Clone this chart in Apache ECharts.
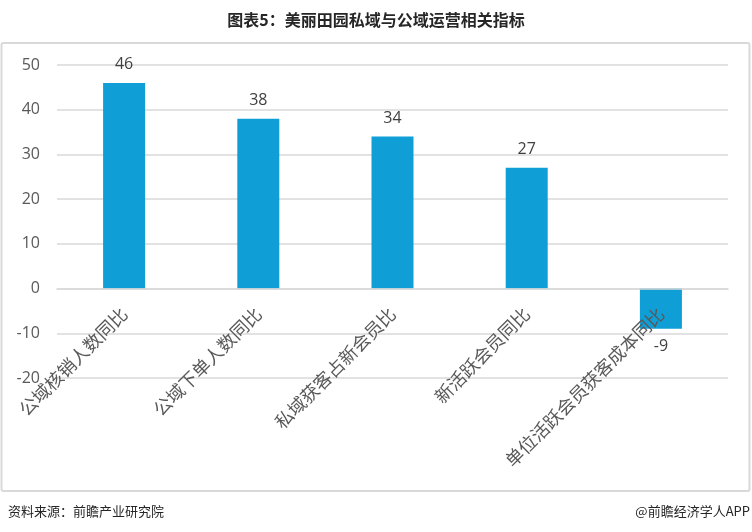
<!DOCTYPE html>
<html>
<head>
<meta charset="utf-8">
<script src="https://cdn.jsdelivr.net/npm/echarts/dist/echarts.min.js"></script>
<style>
html,body{margin:0;padding:0;background:#fff;}
#chart{width:752px;height:532px;}
</style>
</head>
<body>
<div id="chart"></div>
<script>
const titleText = '图表5：美丽田园私域与公域运营相关指标';
const sourceText = '资料来源：前瞻产业研究院';
const brandText = '@前瞻经济学人APP';
const categories = ['公域核销人数同比', '公域下单人数同比', '私域获客占新会员比', '新活跃会员同比', '单位活跃会员获客成本同比'];
const values = [46, 38, 34, 27, -9];
const yTicks = { min: -20, max: 50, interval: 10 };

const chart = echarts.init(document.getElementById('chart'), null, { renderer: 'canvas' });
const cjk = '"Noto Sans CJK SC", "Microsoft YaHei", sans-serif';
const num = '"Open Sans", "Noto Sans", sans-serif';

const gridTop = 65, gridBottom = 154, H = 532;
const plotH = H - gridTop - gridBottom;
const zeroOffset = plotH * (0 - yTicks.min) / (yTicks.max - yTicks.min);

chart.setOption({
  animation: false,
  backgroundColor: '#ffffff',
  graphic: [
    { type: 'rect', shape: { x: 1.5, y: 43, width: 748, height: 448, r: 2 }, style: { fill: 'none', stroke: '#d9d9d9', lineWidth: 2 }, z: -1 },
    { type: 'text', x: 376, y: 20, style: { text: titleText, fill: '#262626', font: 'bold 16px ' + cjk, textAlign: 'center', textVerticalAlign: 'middle' } },
    { type: 'text', x: 8, y: 511, style: { text: sourceText, fill: '#262626', font: '13px ' + cjk, textAlign: 'left', textVerticalAlign: 'middle' } },
    { type: 'text', x: 750, y: 511, style: { text: brandText, fill: '#262626', font: '13px ' + cjk, textAlign: 'right', textVerticalAlign: 'middle' } }
  ],
  grid: { left: 57, right: 24, top: gridTop, bottom: gridBottom, containLabel: false, outerBoundsMode: 'none' },
  xAxis: {
    type: 'category',
    data: categories,
    offset: -zeroOffset,
    z: 5,
    axisLine: { onZero: false, lineStyle: { color: '#d9d9d9', width: 1.5 } },
    axisTick: { show: false },
    axisLabel: { interval: 0, rotate: 45, margin: 22, fontSize: 18, color: '#595959', fontFamily: cjk },
    splitLine: { show: false }
  },
  yAxis: {
    type: 'value',
    min: yTicks.min, max: yTicks.max, interval: yTicks.interval,
    axisLine: { show: false },
    axisTick: { show: false },
    axisLabel: { fontSize: 16, color: '#595959', margin: 17, fontFamily: num },
    splitLine: { lineStyle: { color: '#d9d9d9', width: 1.5 } }
  },
  series: [{
    type: 'bar',
    data: values.map(v => v < 0 ? { value: v, label: { position: 'bottom' } } : v),
    barWidth: 42,
    z: 2,
    itemStyle: { color: '#0f9ed5' },
    label: { show: true, position: 'top', distance: 10, fontSize: 16, color: '#404040', fontFamily: num }
  }]
});
</script>
</body>
</html>
